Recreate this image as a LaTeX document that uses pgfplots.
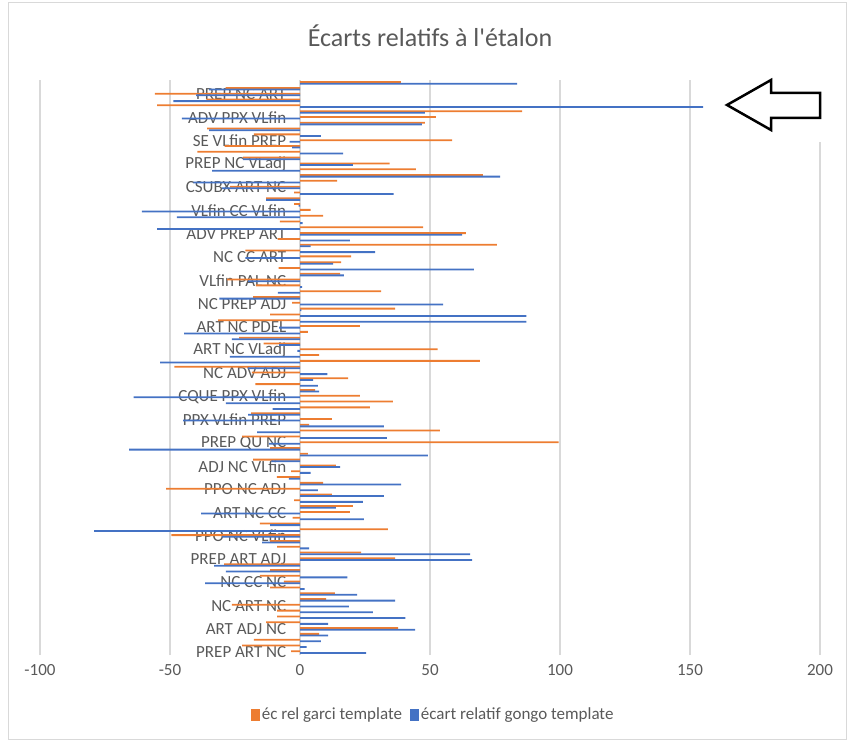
\documentclass[border=0pt]{standalone}
\usepackage{fontspec}
\setmainfont{Carlito}
\newfontfamily\titlefont{Carlito}
\usepackage{pgfplots}
\usepackage{pgfplotstable}
\pgfplotsset{compat=1.18}
\definecolor{garci}{HTML}{ED7D31}
\definecolor{gongo}{HTML}{4472C4}
\definecolor{txt}{HTML}{595959}
\definecolor{grd}{HTML}{D9D9D9}

% idx 0 = bottom category (PREP ART NC), 98 = top
\pgfplotstableread{
idx garci gongo
0 -3.4 25.4
1 -22.3 2.5
2 -17.7 8
3 7.4 10.8
4 37.7 44.3
5 -13 10.8
6 -8.8 40.5
7 -8.8 28
8 -26.2 18.8
9 10 36.6
10 13.4 22
11 -11.5 1.8
12 -6.2 -36.5
13 -15.4 18.2
14 -11.5 -28.5
15 -29.2 -33
16 36.6 66.2
17 23.5 65.4
18 -8.8 3.5
19 -11.5 -14.6
20 -49.5 -30
21 33.8 -79.2
22 -15.4 -11.5
23 -2.8 24.6
24 19.2 -38
25 20.3 13.8
26 -2.3 24.2
27 12.3 32.3
28 -51.5 6.9
29 8.9 38.9
30 -8.9 -4.3
31 -3.4 4.1
32 13.8 15.4
33 -18 -11
34 3 49.2
35 -11.5 -65.7
36 99.5 -12
37 -22.3 33.4
38 53.8 -16.5
39 3.5 32.3
40 12.3 -45
41 -18.8 -20
42 26.9 -10.5
43 35.7 -28.5
44 23 -64
45 5.8 7.4
46 -17.2 6.9
47 18.5 5
48 -18.5 10.5
49 -48.3 -20
50 69.2 -53.8
51 7.4 -27
52 52.9 -1
53 -14 -8
54 -23.4 -26.2
55 3 -44.6
56 23 -8
57 -31.5 87.1
58 -11.5 87.1
59 36.6 0.5
60 -3 55
61 -18 -31
62 31.2 -8.5
63 -17 0.8
64 -28 -20
65 15.4 16.9
66 -8.2 66.9
67 15.8 12.7
68 19.7 -21
69 -21 28.9
70 75.7 4.1
71 -8.6 19.2
72 63.8 62.4
73 47.4 -55
74 -7.7 1
75 8.9 -47.4
76 4.1 -60.8
77 -2.3 -0.5
78 -13 -13
79 -2.3 36
80 -27 -30
81 14.3 -41
82 70.3 77
83 44.6 -33.8
84 34.5 20.3
85 -22 -22
86 -39.5 16.6
87 -29 -3
88 58.5 -4
89 -17.7 8
90 -35.7 -35
91 48 46.9
92 52.3 -45.4
93 85.4 48
94 -55 155
95 -36 -48.7
96 -55.8 -40
97 -28.6 -35
98 38.8 83.5
}\ecarts

\begin{document}
\begin{tikzpicture}
\path[use as bounding box] (0pt,0pt) rectangle (850pt,742pt);
\draw[grd, line width=1pt] (8pt,3pt) rectangle (846pt,739pt);

\node[text=txt, font=\titlefont\fontsize{26}{30}\selectfont] at (430pt,706pt) {Écarts relatifs à l'étalon};

\begin{axis}[
    at={(40pt,87pt)}, anchor=south west,
    scale only axis, width=780pt, height=575pt,
    xmin=-100, xmax=200, ymin=-0.5, ymax=98.5,
    xtick={-100,-50,...,200},
    ytick={0,4,...,96},
    yticklabels={PREP ART NC, ART ADJ NC, NC ART NC, NC CC NC, PREP ART ADJ,
        PPO NC VLfin, ART NC CC, PPO NC ADJ, ADJ NC VLfin, PREP QU NC,
        PPX VLfin PREP, CQUE PPX VLfin, NC ADV ADJ, ART NC VLadj, ART NC PDEL,
        NC PREP ADJ, VLfin PAL NC, NC CC ART, ADV PREP ART, VLfin CC VLfin,
        CSUBX ART NC, PREP NC VLadj, SE VLfin PREP, ADV PPX VLfin, PREP NC ART},
    xmajorgrids, grid style={grd, line width=1.3pt},
    axis line style={draw=none},
    tick style={draw=none},
    /pgf/number format/assume math mode=true,
    ticklabel style={text=txt, font=\fontsize{17}{20}\selectfont},
    xticklabel style={yshift=-6pt},
    yticklabel style={anchor=east, xshift=254pt},
    xbar, bar width=1.8pt,
    legend style={at={(0.504,-0.104)}, anchor=center, legend columns=2,
        draw=none, fill=none, font=\fontsize{17}{20}\selectfont, text=txt,
        /tikz/every even column/.append style={column sep=6pt}},
    legend image code/.code={\fill[#1] (0pt,-6pt) rectangle (9pt,6pt);},
]
\addplot[draw=none, fill=garci, bar shift=0.8pt] table[x=garci, y=idx] {\ecarts};
\addlegendentry{éc rel garci template}
\addplot[draw=none, fill=gongo, bar shift=-0.8pt] table[x=gongo, y=idx] {\ecarts};
\addlegendentry{écart relatif gongo template}
\end{axis}

% annotation arrow
\fill[white] (716pt,600pt) rectangle (838pt,670pt);
\draw[black, line width=2.5pt, line join=miter]
    (727pt,637pt) -- (771pt,662pt) -- (771pt,649pt) -- (820pt,649pt)
    -- (820pt,624pt) -- (771pt,624pt) -- (771pt,612pt) -- cycle;
\end{tikzpicture}
\end{document}
